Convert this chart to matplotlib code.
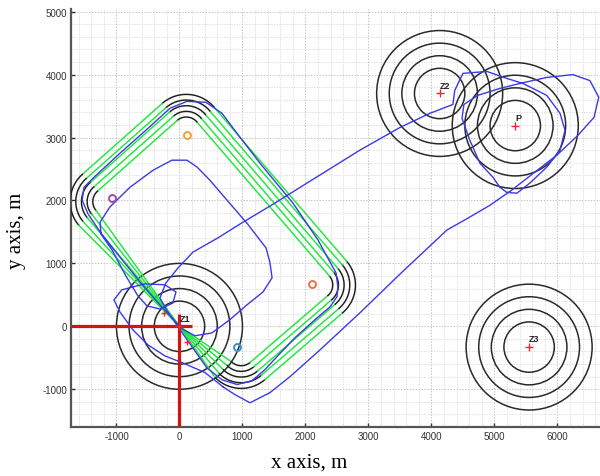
import numpy as np
import matplotlib
matplotlib.use("Agg")
import matplotlib.pyplot as plt
from matplotlib.patches import Circle

# threat zones and target, centres in metres
zone_names = ["Z1", "Z2", "Z3", "P"]
zone_x = [0, 4130, 5550, 5330]
zone_y = [0, 3700, -330, 3190]
ring_radii = [400, 600, 800, 1000]

# planned route corners, closed at Z1
route_x = [0, 961, 2777, 147, -1713, 0]
route_y = [0, -950, 614, 3675, 2021, 0]
turn_radius = 400
lane_offsets = [-180, -90, 0, 90, 180]

# checkpoints
point_x = [116, -1075, 2105, 909]
point_y = [3046, 2045, 670, -330]
point_colors = ["#f2a23a", "#a24aa6", "#f0704a", "#3a92d2"]

# waypoint marks on the Z1 legs
mark_x = [-240, 125]
mark_y = [215, -245]

# flown track, in pieces
track_start_x = [690, 405, 85, -230, -500, -740, -945, -1040, -915, -550, -230, -55, -105, -310, -515, -660]
track_start_y = [-960, -735, -595, -470, -295, -55, 230, 420, 580, 675, 660, 545, 370, 275, 325, 485]
inner_loop_x = [-850, -1070, -1245, -1260, -1105, -785, -420, -120, 120, 280, 485, 755, 1070, 1375, 1435, 1470,
                1325, 1070, 800, 515, 245, 40]
inner_loop_y = [800, 1215, 1465, 1655, 1895, 2210, 2480, 2640, 2640, 2530, 2320, 2005, 1640, 1245, 1020, 770,
                545, 340, 105, -105, -150, -40]
route_flown_x = [-120, -310, -625, -945, -1260, -1450, -1545, -1515, -1355, -945, -500, -150, 120, 420, 675, 960,
                 1280, 1800, 2200, 2355, 2485, 2515, 2500, 2390, 2150, 1835, 1545, 1355, 1150, 915, 675, 435,
                 200, 10]
route_flown_y = [135, 340, 705, 1100, 1500, 1785, 2005, 2210, 2370, 2750, 3145, 3465, 3575, 3560, 3385, 3005,
                 2590, 1960, 1370, 1085, 850, 625, 470, 310, 105, -180, -485, -690, -865, -925, -850, -660,
                 -325, -55]
outbound_x = [-185, -310, -215, -25, 215, 610, 960, 1485, 2070, 2865, 3500, 3975, 4340]
outbound_y = [230, 450, 690, 925, 1180, 1405, 1625, 1940, 2305, 2800, 3160, 3385, 3525]
target_loop_x = [4370, 4500, 4880, 5195, 5450, 5830, 6040, 6120, 6040, 5830, 5560, 5355, 5195, 5085, 4975, 4770,
                 4610, 4485, 4515]
target_loop_y = [3750, 4020, 4050, 3940, 3860, 3670, 3385, 3115, 2800, 2530, 2275, 2115, 2130, 2210, 2370, 2590,
                 2955, 3305, 3525]
return_x = [4735, 5085, 5405, 5830, 6245, 6515, 6655, 6580, 6325, 5990, 5640, 5275, 4930, 4580, 4245, 3500, 2865,
            2230, 1755, 1435, 1120, 880, 690]
return_y = [3670, 3780, 3860, 3955, 4000, 3905, 3640, 3320, 3035, 2720, 2450, 2165, 1925, 1720, 1530, 830, 215,
            -375, -800, -1055, -1215, -1085, -960]

XLIM = (-1715, 6675)
YLIM = (-1600, 5040)


def unit(v):
    return v / np.hypot(*v)


def route_pieces(xs, ys, radius):
    """Split a closed corner list into straight legs and rounded turns."""
    pts = np.column_stack([xs, ys]).astype(float)
    n = len(pts) - 1
    turns = []
    for i in range(1, n):
        d_in = unit(pts[i] - pts[i - 1])
        d_out = unit(pts[i + 1] - pts[i])
        turn = np.arctan2(d_in[0] * d_out[1] - d_in[1] * d_out[0], d_in @ d_out)
        t = radius * np.tan(abs(turn) / 2)
        p_in = pts[i] - d_in * t
        p_out = pts[i] + d_out * t
        s = np.sign(turn)
        centre = p_in + s * radius * np.array([-d_in[1], d_in[0]])
        a0 = np.arctan2(p_in[1] - centre[1], p_in[0] - centre[0])
        a = a0 + np.linspace(0, turn, 60)
        ring = np.column_stack([np.cos(a), np.sin(a)])
        turns.append((p_in, p_out, centre + radius * ring, -s * ring))

    pieces = []
    starts = [pts[0]] + [t[1] for t in turns]
    ends = [t[0] for t in turns] + [pts[n]]
    for k, (a, b) in enumerate(zip(starts, ends)):
        d = unit(b - a)
        f = np.linspace(0, 1, 80)
        xy = a + f[:, None] * (b - a)
        normal = np.tile([-d[1], d[0]], (len(f), 1))
        if k == 0:
            width = f
        elif k == len(starts) - 1:
            width = 1 - f
        else:
            width = np.ones_like(f)
        pieces.append(("#1ee83e", xy, normal * width[:, None]))
        if k < len(turns):
            pieces.append(("#1e1e1e", turns[k][2], turns[k][3]))
    return pieces


plt.rcParams["axes.unicode_minus"] = False
fig = plt.figure(figsize=(6.0, 4.77), dpi=100)
ax = fig.add_axes([0.119, 0.1027, 0.881, 0.876])
ax.set_xlim(*XLIM)
ax.set_ylim(*YLIM)

ax.set_xticks(np.arange(-1000, 6001, 1000))
ax.set_yticks(np.arange(-1000, 5001, 1000))
ax.set_xticks(np.arange(-1600, 6700, 200), minor=True)
ax.set_yticks(np.arange(-1600, 5100, 200), minor=True)
ax.grid(which="major", color="#c4c4c4", linestyle=(0, (1.5, 1.5)), linewidth=0.7)
ax.grid(which="minor", color="#d8d8d8", linestyle=(0, (1.5, 1.5)), linewidth=0.6)
ax.set_axisbelow(True)
ax.tick_params(which="major", direction="in", length=3, width=1, colors="#333333",
               labelsize=7, pad=3)
ax.tick_params(which="minor", length=0)
for lab in ax.get_xticklabels() + ax.get_yticklabels():
    lab.set_family("Liberation Sans")
for side in ("top", "right"):
    ax.spines[side].set_visible(False)
for side in ("left", "bottom"):
    ax.spines[side].set_color("#555555")
    ax.spines[side].set_linewidth(1.6)

# rings round each zone
for cx, cy in zip(zone_x, zone_y):
    for r in ring_radii:
        ax.add_patch(Circle((cx, cy), r, fill=False, edgecolor="#2a2a2a", linewidth=1.1, zorder=2))

# route corridor
for color, xy, normal in route_pieces(route_x, route_y, turn_radius):
    for off in lane_offsets:
        line = xy + off * normal
        ax.plot(line[:, 0], line[:, 1], color=color, linewidth=1.05, zorder=3)

# flown track
track_x = track_start_x + inner_loop_x + route_flown_x + outbound_x + target_loop_x + return_x
track_y = track_start_y + inner_loop_y + route_flown_y + outbound_y + target_loop_y + return_y
ax.plot(track_x, track_y, color="#3a3ae8", linewidth=1.0, zorder=4)

# reference cross at Z1
ax.plot([XLIM[0], 200], [0, 0], color="#d21414", linewidth=2.3, zorder=5, solid_capstyle="butt")
ax.plot([0, 0], [200, YLIM[0]], color="#d21414", linewidth=2.3, zorder=5, solid_capstyle="butt")

ax.plot(zone_x, zone_y, "+", color="#e8283c", markersize=6, markeredgewidth=1.0, zorder=6)
ax.plot(mark_x, mark_y, "+", color="#e8283c", markersize=5, markeredgewidth=1.0, zorder=6)
for name, cx, cy in zip(zone_names, zone_x, zone_y):
    ax.text(cx, cy + 60, name, fontsize=6.5, fontweight="bold", color="#222222",
            ha="left", va="bottom", family="Liberation Sans", zorder=7)

for px, py, c in zip(point_x, point_y, point_colors):
    ax.plot(px, py, "o", markersize=5, markerfacecolor="none", markeredgecolor=c,
            markeredgewidth=1.4, zorder=6)

fig.text(0.515, 0.029, "x axis, m", fontsize=15, family="Liberation Serif", ha="center", va="center")
fig.text(0.028, 0.515, "y axis, m", fontsize=15, family="Liberation Serif", ha="center", va="center",
         rotation=90)

fig.savefig("out.png", dpi=100)
